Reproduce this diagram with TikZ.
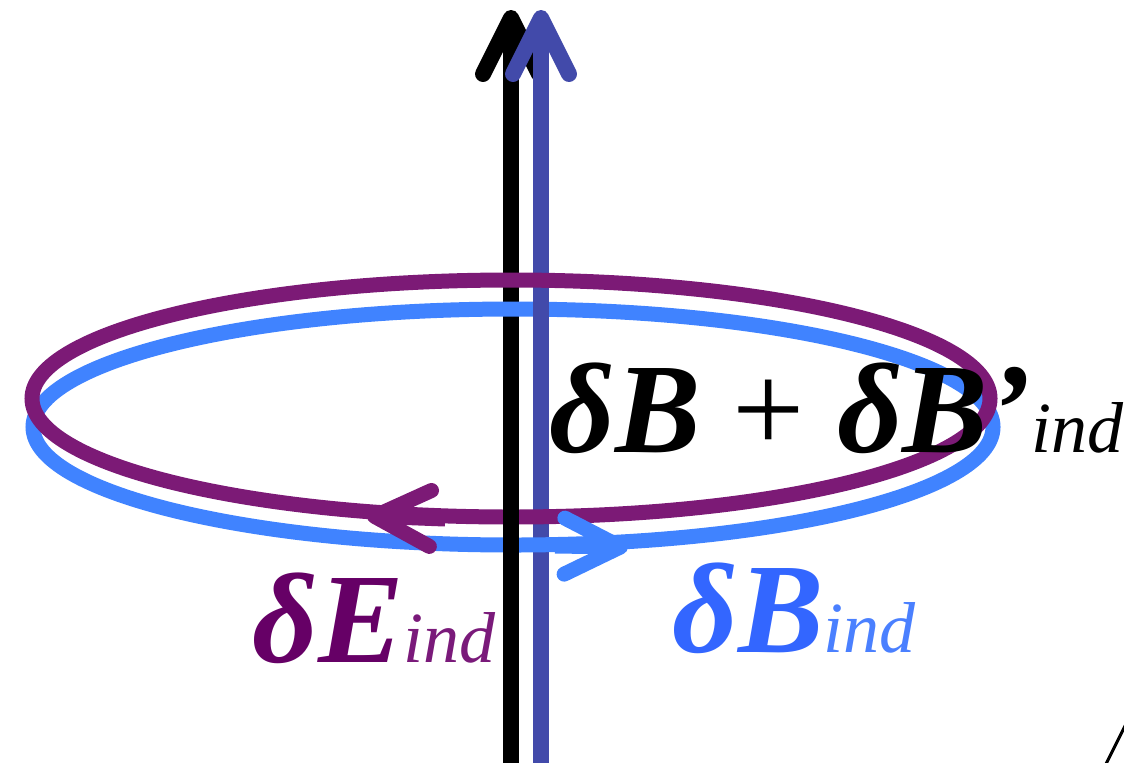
\documentclass[tikz,border=0pt]{standalone}
\usepackage{fontspec}
\setmainfont{Liberation Serif}
\usetikzlibrary{arrows.meta}
\definecolor{loopE}{RGB}{124,26,118}
\definecolor{loopB}{RGB}{64,131,255}
\definecolor{fieldB}{RGB}{66,74,170}
\definecolor{labelE}{RGB}{102,0,102}
\definecolor{labelEsub}{RGB}{122,26,122}
\definecolor{labelB}{RGB}{51,102,255}
\definecolor{labelBsub}{RGB}{74,128,255}
\newcommand{\indsub}{{\fontsize{41}{44}\selectfont\mdseries\itshape ind}}

\begin{document}
\begin{tikzpicture}[
    x=0.02cm, y=-0.02cm,
    axis/.style={line width=0.32cm},
    ring/.style={line width=0.3cm},
    tip/.style={-{Straight Barb[length=1.12cm, width=1.12cm, round]}},
    lbl/.style={anchor=base west, inner sep=0pt, font=\fontsize{73}{76}\selectfont\bfseries\itshape}
]
    \useasboundingbox (0,0) rectangle (1124,762);

    \coordinate (axbot) at (511,770);
    \coordinate (axtop) at (511,10);
    \coordinate (fbbot) at (541,770);
    \coordinate (fbtop) at (541,10);

    % the two field lines
    \draw[axis, black, tip] (axbot) -- (axtop);
    \draw[axis, fieldB, tip] (fbbot) -- (fbtop);

    % induced loops
    \draw[ring, loopB] (513,427) ellipse [x radius=480, y radius=118];
    \draw[axis, fieldB] (541,296) -- (541,324);
    \draw[ring, loopE] (511,398.5) ellipse [x radius=479, y radius=118.5];
    \draw[axis, black] (511,500) -- (511,566);

    \coordinate (etail) at (445,519);
    \coordinate (ehead) at (367,516);
    \coordinate (btail) at (555,546);
    \coordinate (bhead) at (628,547);
    \draw[ring, loopE, tip] (etail) -- (ehead);
    \draw[ring, loopB, tip] (btail) -- (bhead);

    \node[lbl] (sum) at (549,452) {δB\textmd{\upshape\ +\ }δB’\indsub};
    \node[lbl, text=labelE] (dE) at (252,662) {δE{\color{labelEsub}\indsub}};
    \node[lbl, text=labelB] (dB) at (672,652) {δB{\color{labelBsub}\indsub}};

    \draw[line width=0.06cm] (1106,764) -- (1126,724);
\end{tikzpicture}
\end{document}
